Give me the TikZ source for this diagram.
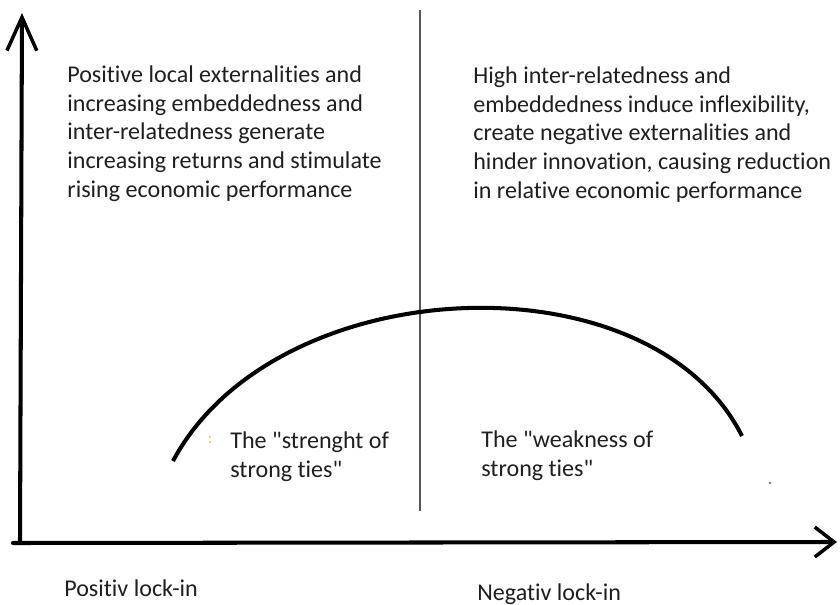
\documentclass[tikz,border=0pt]{standalone}
\usepackage{fontspec}
\setmainfont{Carlito}[Ligatures={TeX,NoCommon}]
\usetikzlibrary{arrows.meta}

\begin{document}
\begin{tikzpicture}[x=0.02cm, y=-0.02cm,
		axis/.style={line width=2.3pt, black, line cap=round},
		curve/.style={line width=2.3pt, black},
		divider/.style={line width=1.1pt, black!65},
		txt/.style={align=left, anchor=base west, inner sep=0pt, text=black!88,
			font=\fontsize{13.7}{16.3}\selectfont}]
			
			\useasboundingbox (0,0) rectangle (840,605);
			
			% AXES
			\coordinate (orig) at (20,543);
			\coordinate (ytop) at (22,13);
			\coordinate (xleft) at (13,543);
			\coordinate (xright) at (837,542);
			\draw[axis, -{Straight Barb[length=19pt, width=17pt, line width=2pt]}] (orig) -- (ytop);
			\draw[axis, -{Straight Barb[length=11pt, width=17pt, line width=2pt]}] (xleft) -- (xright);
			
			% DIVIDER
			\coordinate (dtop) at (420,10);
			\coordinate (dbot) at (420,511);
			\draw[divider] (dtop) -- (dbot);
			
			% CURVE
			\coordinate (cstart) at (173,461);
			\coordinate (cend) at (742,436);
			\draw[curve] (cstart) .. controls (275,270) and (650,253) .. (cend);
			
			% TEXTS (anchored at the baseline of the last line)
			\node[txt] (posext) at (67,197) {Positive local externalities and\\increasing embeddedness and\\inter-relatedness generate\\increasing returns and stimulate\\rising economic performance};
			\node[txt] (negext) at (473,198) {High inter-relatedness and\\embeddedness induce inflexibility,\\create negative externalities and\\hinder innovation, causing reduction\\in relative economic performance};
			\node[txt] (strong) at (230,477) {The \textquotedbl strenght of\\strong ties\textquotedbl};
			\node[txt] (weak) at (481,476) {The \textquotedbl weakness of\\strong ties\textquotedbl};
			\node[txt] (poslock) at (64,596) {Positiv lock-in};
			\node[txt] (neglock) at (477,600) {Negativ lock-in};
			
			% specks
			\node[inner sep=0pt, text=orange!60, font=\fontsize{9}{9}\selectfont] (speck) at (210,440) {:};
			\fill[black!70] (770,483) circle (1.2);
	
		\end{tikzpicture}
\end{document}
